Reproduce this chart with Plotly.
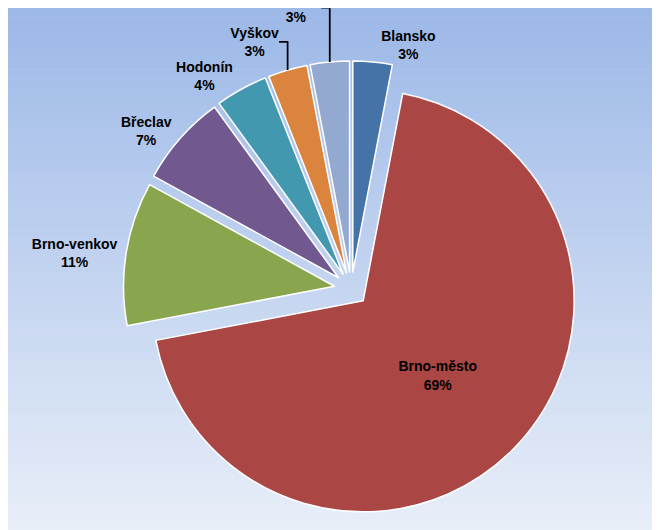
import plotly.graph_objects as go

labels = ["Blansko", "Brno-město", "Brno-venkov", "Břeclav", "Hodonín", "Vyškov", "Znojmo"]
values = [3, 69, 11, 7, 4, 3, 3]
colors = ["#4572A7", "#AA4643", "#89A54E", "#71588F", "#4198AF", "#DB843D", "#93A9CF"]
positions = ["outside", "inside", "outside", "outside", "outside", "outside", "outside"]

fig = go.Figure(go.Pie(
    labels=labels, values=values, sort=False, direction="clockwise", rotation=0,
    marker=dict(colors=colors, line=dict(color="white", width=1.5)),
    pull=[0.08] * len(values),
    textposition=positions,
    texttemplate="<b>%{label}</b><br><b>%{percent:.0%}</b>",
    textfont=dict(family="Liberation Sans, Arial", size=14, color="black"),
    showlegend=False, hoverinfo="label+percent",
    domain=dict(x=[0.14, 0.9], y=[0.04, 0.9]),
))

shapes = []
n = 60
top = (157, 185, 232)
bot = (233, 239, 249)
for i in range(n):
    t = i / (n - 1)
    c = tuple(int(top[k] + (bot[k] - top[k]) * t) for k in range(3))
    shapes.append(dict(type="rect", xref="paper", yref="paper", layer="below",
                       x0=0, x1=1, y0=1 - (i + 1) / n, y1=1 - i / n + 0.001,
                       fillcolor="rgb(%d,%d,%d)" % c, line=dict(width=0)))

fig.update_layout(width=660, height=530,
                  margin=dict(l=0, r=0, t=0, b=0, autoexpand=False),
                  paper_bgcolor="#E8EEF8", shapes=shapes)
fig.write_html("out.html")
